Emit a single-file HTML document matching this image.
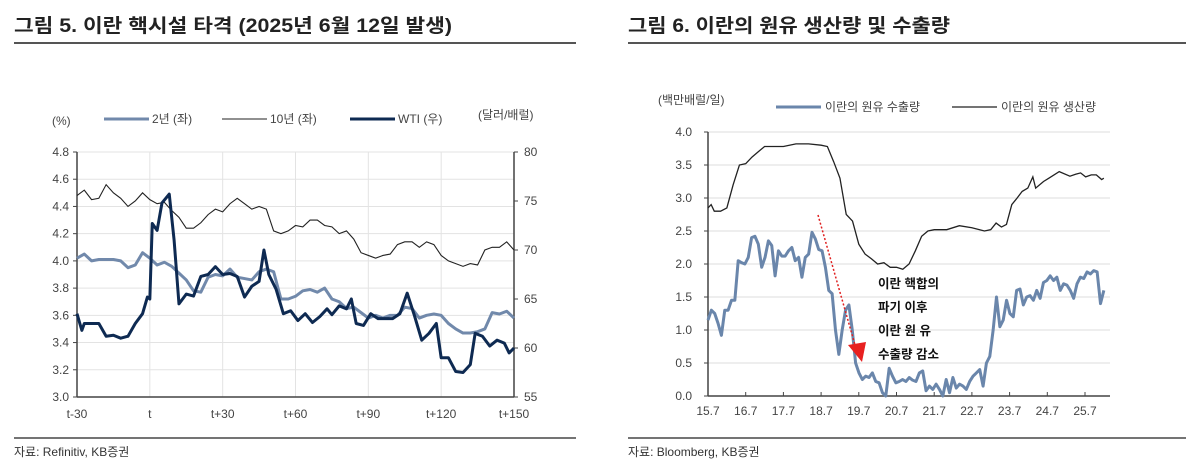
<!DOCTYPE html>
<html><head><meta charset="utf-8">
<style>
body{margin:0;background:#fff;width:1197px;height:470px;overflow:hidden;font-family:"Liberation Sans","Noto Sans CJK KR",sans-serif;}
svg text{font-family:"Liberation Sans","Noto Sans CJK KR",sans-serif;}
</style></head>
<body>
<svg id="svg" width="1197" height="470" xmlns="http://www.w3.org/2000/svg">
  <text x="14" y="32" font-size="19" font-weight="bold" fill="#222" textLength="438" lengthAdjust="spacingAndGlyphs">그림 5. 이란 핵시설 타격 (2025년 6월 12일 발생)</text>
  <line x1="14" y1="43" x2="576" y2="43" stroke="#555" stroke-width="2"/>
  <text x="628" y="32" font-size="19" font-weight="bold" fill="#222" textLength="322" lengthAdjust="spacingAndGlyphs">그림 6. 이란의 원유 생산량 및 수출량</text>
  <line x1="628" y1="43" x2="1186" y2="43" stroke="#555" stroke-width="2"/>
  <line x1="14" y1="438" x2="576" y2="438" stroke="#222" stroke-width="1.2"/>
  <line x1="628" y1="438" x2="1186" y2="438" stroke="#222" stroke-width="1.2"/>
  <text x="14" y="456" font-size="12" fill="#333">자료: Refinitiv, KB증권</text>
  <text x="628" y="456" font-size="12" fill="#333">자료: Bloomberg, KB증권</text>

  <g id="left"></g>
  <g id="right"></g>
</svg>
<script>
// ---------- Left chart data ----------
const bondDays = [-30,-27,-24,-21,-18,-15,-12,-9,-6,-3,0,3,6,9,12,15,18,21,24,27,30,33,36,39,42,45,48,51,54,57,60,63,66,69,72,75,78,81,84,87,90,93,96,99,102,105,108,111,114,117,120,123,126,129,132,135,138,141,144,147,150];
const y2Values = [4.02,4.05,4.00,4.01,4.01,4.01,4.00,3.95,3.97,4.06,4.02,3.97,3.99,3.96,3.91,3.86,3.78,3.77,3.88,3.90,3.89,3.94,3.88,3.87,3.86,3.92,3.94,3.92,3.72,3.72,3.74,3.78,3.79,3.77,3.80,3.72,3.70,3.65,3.66,3.62,3.58,3.60,3.58,3.60,3.60,3.66,3.65,3.58,3.60,3.61,3.60,3.54,3.50,3.47,3.47,3.48,3.50,3.62,3.61,3.63,3.58];
const y10Values = [4.48,4.52,4.45,4.46,4.56,4.50,4.46,4.40,4.44,4.50,4.45,4.42,4.43,4.37,4.32,4.24,4.24,4.28,4.34,4.38,4.36,4.42,4.46,4.42,4.38,4.40,4.38,4.22,4.20,4.22,4.26,4.25,4.30,4.30,4.26,4.25,4.20,4.22,4.16,4.06,4.04,4.02,4.04,4.05,4.12,4.14,4.14,4.10,4.14,4.12,4.04,4.00,3.98,3.96,3.98,3.97,4.08,4.10,4.10,4.14,4.08];
const wtiDays = [-30,-28,-27,-24,-21,-18,-15,-12,-9,-6,-3,-1,0,1,3,5,8,10,12,15,18,21,24,27,30,33,36,39,42,45,47,49,52,55,58,61,64,67,70,73,75,78,81,83,85,88,91,94,97,100,103,106,109,112,115,118,120,123,126,129,132,134,137,140,143,146,148,150];
const wtiValues = [63.5,61.8,62.5,62.5,62.5,61.2,61.3,61.0,61.2,62.5,63.5,65.2,65.0,72.7,72.0,74.8,75.7,71.0,64.5,65.5,65.3,67.3,67.5,68.3,67.5,67.6,67.3,65.2,66.3,66.8,70.0,67.5,66.0,63.5,63.8,62.8,63.5,62.6,63.2,64.0,63.4,64.3,64.0,65.0,62.5,62.3,63.5,63.0,63.0,63.0,63.5,65.6,63.3,60.8,61.5,62.5,59.0,59.0,57.6,57.5,58.3,61.5,61.2,60.2,60.8,60.5,59.5,60.0];
const leftXTicks = [-30,0,30,60,90,120,150];
const leftXLabels = ["t-30","t","t+30","t+60","t+90","t+120","t+150"];
const leftYTicks = [3.0,3.2,3.4,3.6,3.8,4.0,4.2,4.4,4.6,4.8];
const rightAxisTicks = [55,60,65,70,75,80];

// ---------- Right chart data ----------
const prodMonths = [0,1,2,4,6,8,10,12,14,16,18,20,24,28,32,36,38,40,42,44,46,48,50,52,54,56,58,60,62,64,66,68,70,72,76,80,84,88,90,91.7,93.4,95,96.7,98.4,100,101.8,103.4,104.3,106.8,108.5,111.8,115.2,117,118.6,120.2,122,123.6,125.3,126];
const prodValues = [2.85,2.90,2.80,2.80,2.85,3.20,3.50,3.52,3.62,3.70,3.78,3.78,3.78,3.82,3.82,3.80,3.78,3.55,3.30,2.75,2.65,2.30,2.15,2.08,2.00,2.02,1.95,1.95,1.92,2.00,2.20,2.42,2.50,2.52,2.52,2.58,2.55,2.50,2.52,2.62,2.56,2.60,2.90,3.00,3.10,3.15,3.32,3.15,3.25,3.30,3.40,3.33,3.36,3.38,3.32,3.35,3.35,3.28,3.30];
const exportValues = [1.15,1.30,1.25,1.10,0.92,1.30,1.30,1.45,1.45,2.05,2.02,2.00,2.10,2.40,2.42,2.30,1.95,2.10,2.35,2.28,1.82,2.20,2.12,2.12,2.20,2.25,2.05,2.10,1.80,2.10,2.15,2.48,2.38,2.22,2.20,1.95,1.60,1.55,1.00,0.63,1.00,1.30,1.38,1.00,0.50,0.35,0.25,0.30,0.28,0.35,0.22,0.20,0.05,0.00,0.42,0.30,0.20,0.22,0.25,0.22,0.28,0.24,0.22,0.35,0.38,0.08,0.15,0.10,0.18,0.10,0.00,0.25,0.05,0.28,0.12,0.18,0.15,0.10,0.22,0.30,0.35,0.40,0.15,0.50,0.60,1.00,1.50,1.05,1.15,1.45,1.25,1.20,1.60,1.62,1.38,1.50,1.52,1.45,1.60,1.48,1.72,1.75,1.82,1.75,1.80,1.60,1.70,1.68,1.60,1.48,1.70,1.80,1.78,1.88,1.85,1.90,1.88,1.40,1.60];
const exportMonthSpan = 126;
const rightXTicks = [0,12,24,36,48,60,72,84,96,108,120];
const rightXLabels = ["15.7","16.7","17.7","18.7","19.7","20.7","21.7","22.7","23.7","24.7","25.7"];
const rightYTicks = [0.0,0.5,1.0,1.5,2.0,2.5,3.0,3.5,4.0];
const rightYLabels = ["0.0","0.5","1.0","1.5","2.0","2.5","3.0","3.5","4.0"];

const NS = "http://www.w3.org/2000/svg";
function mk(parent, tag, attrs, text){
  const e = document.createElementNS(NS, tag);
  for (const k in attrs) e.setAttribute(k, attrs[k]);
  if (text !== undefined) e.textContent = text;
  parent.appendChild(e);
  return e;
}

// ---------- Left chart ----------
(function(){
  const g = document.getElementById('left');
  const X0=77, X1=514, Y0=397, Y1=152;
  const x = d => X0 + (d + 30) / 180 * (X1 - X0);
  const yL = v => Y0 - (v - 3.0) / 1.8 * (Y0 - Y1);
  const yR = v => Y0 - (v - 55) / 25 * (Y0 - Y1);
  leftYTicks.forEach(v => {
    const l = mk(g,'line',{x1:X0,x2:X1,y1:yL(v),y2:yL(v),stroke:'#e3e3e3','stroke-width':1});
    
    
    const t = mk(g,'text',{x:X0-8,y:yL(v)+4,'font-size':12,'text-anchor':'end',fill:'#444'}, v.toFixed(1));
    
    
    const tk = mk(g,'line',{x1:X0-4,x2:X0,y1:yL(v),y2:yL(v),stroke:'#444'});
    
    
  });
  leftXTicks.forEach((d,i) => {
    const l = mk(g,'line',{x1:x(d),x2:x(d),y1:Y1,y2:Y0,stroke:'#e3e3e3','stroke-width':1});
    
    
    const t = mk(g,'text',{x:x(d),y:Y0+21,'font-size':12,'text-anchor':'middle',fill:'#444'}, leftXLabels[i]);
    
    
  });
  rightAxisTicks.forEach(v => {
    const t = mk(g,'text',{x:X1+10,y:yR(v)+4,'font-size':12,fill:'#444'}, String(v));
    
    
    const tk = mk(g,'line',{x1:X1,x2:X1+4,y1:yR(v),y2:yR(v),stroke:'#444'});
    
    
  });
  const ax = mk(g,'line',{x1:X0,x2:X0,y1:Y1,y2:Y0,stroke:'#444','stroke-width':1.5});
   
  const ax2 = mk(g,'line',{x1:X1,x2:X1,y1:Y1,y2:Y0,stroke:'#444','stroke-width':1.5});
   
  const ax3 = mk(g,'line',{x1:X0,x2:X1,y1:Y0,y2:Y0,stroke:'#444','stroke-width':1.5});
   

  const p2 = mk(g,'polyline',{points:bondDays.map((d,i)=>x(d)+','+yL(y2Values[i])).join(' '),fill:'none',stroke:'#7189ab','stroke-width':3,'stroke-linejoin':'round'});
   
  const p10 = mk(g,'polyline',{points:bondDays.map((d,i)=>x(d)+','+yL(y10Values[i])).join(' '),fill:'none',stroke:'#222','stroke-width':1.1});
   
  const pw = mk(g,'polyline',{points:wtiDays.map((d,i)=>x(d)+','+yR(wtiValues[i])).join(' '),fill:'none',stroke:'#0e2a52','stroke-width':3,'stroke-linejoin':'round'});
   

  const u1 = mk(g,'text',{x:52,y:125,'font-size':12,fill:'#444'},'(%)');
   
  const u2 = mk(g,'text',{x:478,y:119,'font-size':12,fill:'#444'},'(달러/배럴)');
   
  const leg = [[104,'#7189ab',3,'2년 (좌)'],[222,'#222',1.1,'10년 (좌)'],[350,'#0e2a52',3,'WTI (우)']];
  leg.forEach(L => {
    const l = mk(g,'line',{x1:L[0],x2:L[0]+45,y1:119,y2:119,stroke:L[1],'stroke-width':L[2]});
     
    const t = mk(g,'text',{x:L[0]+48,y:123,'font-size':12,fill:'#444'},L[3]);
     
  });
})();

// ---------- Right chart ----------
(function(){
  const g = document.getElementById('right');
  const X0=708, Y0=396, Y1=132, XE=1110;
  const pxPerMonth = (1085 - 708) / 120;
  const x = m => X0 + m * pxPerMonth;
  const y = v => Y0 - v / 4 * (Y0 - Y1);
  rightYTicks.forEach((v,i) => {
    if (v > 0) {
      const l = mk(g,'line',{x1:X0,x2:XE,y1:y(v),y2:y(v),stroke:'#dcdcdc','stroke-width':1});
       
    }
    const t = mk(g,'text',{x:X0-16,y:y(v)+4,'font-size':12,'text-anchor':'end',fill:'#444'},rightYLabels[i]);
     
    const tk = mk(g,'line',{x1:X0-4,x2:X0,y1:y(v),y2:y(v),stroke:'#444'});
     
  });
  rightXTicks.forEach((m,i) => {
    const tk = mk(g,'line',{x1:x(m),x2:x(m),y1:Y0,y2:Y0-4,stroke:'#444'});
     
    const t = mk(g,'text',{x:x(m),y:Y0+19,'font-size':12,'text-anchor':'middle',fill:'#444'},rightXLabels[i]);
     
  });
  const ax = mk(g,'line',{x1:X0,x2:X0,y1:Y1,y2:Y0,stroke:'#444','stroke-width':1.5});
   
  const ax2 = mk(g,'line',{x1:X0,x2:XE,y1:Y0,y2:Y0,stroke:'#444','stroke-width':1.5});
   

  const step = exportMonthSpan / (exportValues.length - 1);
  const pe = mk(g,'polyline',{points:exportValues.map((v,i)=>x(i*step)+','+y(v)).join(' '),fill:'none',stroke:'#6a86ab','stroke-width':3,'stroke-linejoin':'round'});
   
  const pp = mk(g,'polyline',{points:prodMonths.map((m,i)=>x(m)+','+y(prodValues[i])).join(' '),fill:'none',stroke:'#222','stroke-width':1.3});
   

  const u = mk(g,'text',{x:658,y:104,'font-size':12,fill:'#444'},'(백만배럴/일)');
   
  const leg = [[776,'#6a86ab',3,'이란의 원유 수출량'],[952,'#222',1.3,'이란의 원유 생산량']];
  leg.forEach(L => {
    const l = mk(g,'line',{x1:L[0],x2:L[0]+45,y1:107,y2:107,stroke:L[1],'stroke-width':L[2]});
     
    const t = mk(g,'text',{x:L[0]+49,y:111,'font-size':12,fill:'#444'},L[3]);
     
  });
  const arr = mk(g,'line',{x1:818,y1:215,x2:855,y2:345,stroke:'#e02020','stroke-width':1.5,'stroke-dasharray':'2,2'});
   
  const head = mk(g,'polygon',{points:'848,345 866,342 862,362',fill:'#e82020'});
   
  ['이란 핵합의','파기 이후','이란 원 유','수출량 감소'].forEach((s,i) => {
    const t = mk(g,'text',{x:878,y:288+i*23.5,'font-size':12.5,'font-weight':'bold',fill:'#111'},s);
     
  });
})();
</script>
</body></html>
